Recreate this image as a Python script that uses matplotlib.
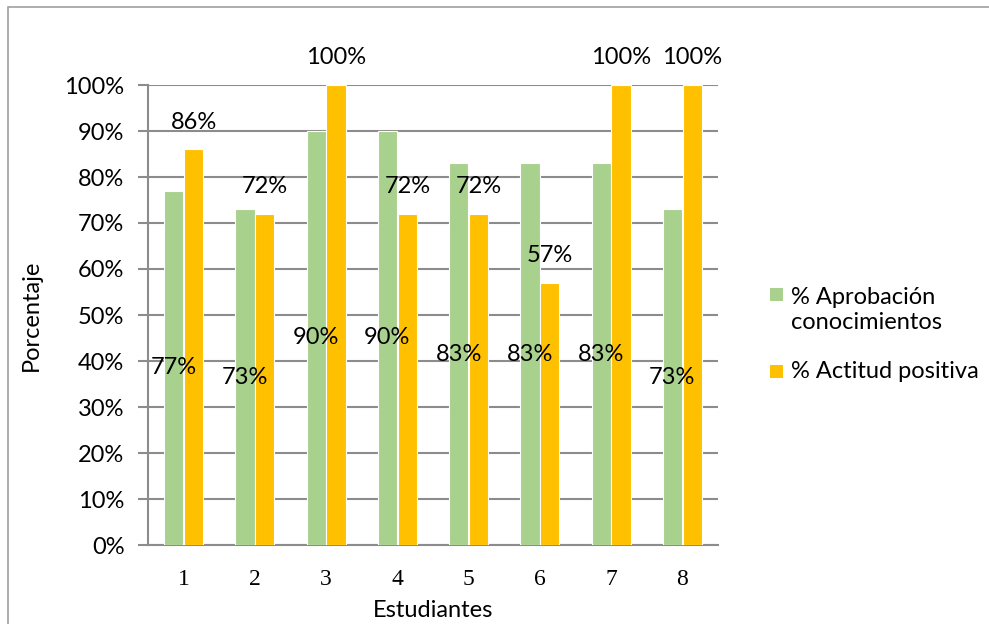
import numpy as np
import matplotlib
matplotlib.use("Agg")
import matplotlib.pyplot as plt
from matplotlib.patches import Rectangle
from matplotlib.ticker import PercentFormatter

# ── DATA ────────────────────────────────────────────────────
estudiantes = ["1", "2", "3", "4", "5", "6", "7", "8"]
aprobacion = [0.77, 0.73, 0.90, 0.90, 0.83, 0.83, 0.83, 0.73]
actitud = [0.86, 0.72, 1.00, 0.72, 0.72, 0.57, 1.00, 1.00]
series_names = ["% Aprobación\nconocimientos", "% Actitud positiva"]

GREEN = "#A9D18E"
ORANGE = "#FFC000"
GREY = "#8C8C8C"
FS = 17

plt.rcParams["font.family"] = ["Lato", "DejaVu Sans"]

W, H = 989, 624
fig = plt.figure(figsize=(W / 100, H / 100), dpi=100)
ax = fig.add_axes([148 / W, 1 - 545 / H, 570 / W, 460 / H])

def fx(px):
    return px / W

def fy(py):
    return 1 - py / H

# outer chart frame (runs off the right/bottom edge)
fig.patches.append(Rectangle((fx(8), -0.1), 1.2, fy(7) + 0.1,
                             transform=fig.transFigure, fill=False,
                             edgecolor="#A0A0A0", linewidth=1.2))

x = np.arange(len(estudiantes))
w = 0.27
off = 0.14
ax.bar(x - off, aprobacion, w, color=GREEN, edgecolor="white",
       linewidth=0.8, zorder=3)
ax.bar(x + off, actitud, w, color=ORANGE, edgecolor="white",
       linewidth=0.8, zorder=3)

# data labels: green in the middle of the bar, orange above the bar
for xi, v in zip(x, aprobacion):
    ax.text(xi - off, v / 2, f"{v:.0%}", ha="center", va="center",
            fontsize=FS, zorder=4)
for xi, v in zip(x, actitud):
    ax.annotate(f"{v:.0%}", (xi + off, v), xytext=(0, 19.5),
                textcoords="offset points", ha="center", va="center",
                fontsize=FS, annotation_clip=False, zorder=4)

ax.set_xlim(-0.5, len(estudiantes) - 0.5)
ax.set_ylim(0, 1.0)
ax.set_yticks(np.arange(0, 1.01, 0.1))
ax.yaxis.set_major_formatter(PercentFormatter(1.0, decimals=0))
ax.set_xticks(x)
ax.set_xticklabels(estudiantes, family=["Liberation Serif", "DejaVu Serif"],
                   fontsize=FS)

ax.grid(axis="y", color=GREY, linewidth=1.5, zorder=0)
for side in ["top", "right"]:
    ax.spines[side].set_visible(False)
for side in ["left", "bottom"]:
    ax.spines[side].set_color(GREY)
    ax.spines[side].set_linewidth(1.5)

ax.tick_params(axis="y", length=7, width=1.5, color=GREY, pad=10,
               labelsize=FS)
ax.tick_params(axis="x", length=0, pad=17)

ax.set_ylabel("Porcentaje", fontsize=FS)
ax.yaxis.set_label_coords(-0.186, 0.5)
ax.set_xlabel("Estudiantes", fontsize=FS)
ax.xaxis.set_label_coords(0.5, -0.12)

# legend (Excel style: marker aligned with the first text line)
for color, label, top, text_y in [(GREEN, series_names[0], 288, 310),
                                  (ORANGE, series_names[1], 365, 371)]:
    fig.patches.append(Rectangle((fx(770), fy(top + 13)), 13 / W, 13 / H,
                                 transform=fig.transFigure,
                                 facecolor=color, edgecolor="none"))
    fig.text(fx(791), fy(text_y), label, ha="left", va="center",
             fontsize=FS, linespacing=1.27)

plt.savefig("out.png", dpi=100)
